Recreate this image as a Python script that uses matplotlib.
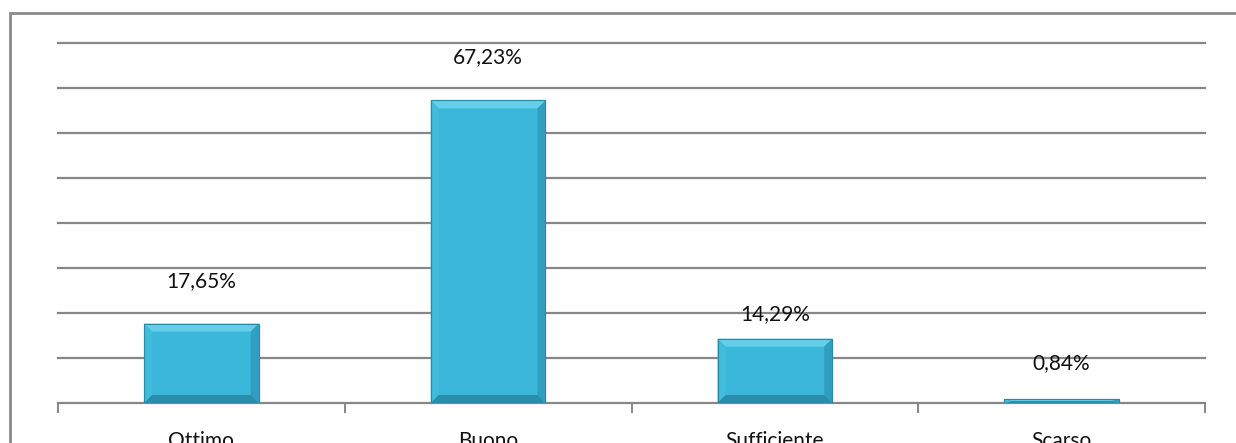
import matplotlib
matplotlib.use("Agg")
import matplotlib.pyplot as plt
from matplotlib.patches import Polygon, Rectangle

categories = ["Ottimo", "Buono", "Sufficiente", "Scarso"]
values = [17.65, 67.23, 14.29, 0.84]
labels = ["17,65%", "67,23%", "14,29%", "0,84%"]
# vertical offset (pixels) of each data label above its bar top
label_offsets_px = [42, 43, 25, 36]

plt.rcParams['font.family'] = ['Lato', 'DejaVu Sans']

W, H = 1236, 443
fig = plt.figure(figsize=(W / 100, H / 100), dpi=100)

# outer frame (extends beyond the image at right/bottom)
fig.patches.append(Rectangle((10 / W, -0.1), 1.2, (H - 13) / H + 0.1,
                             transform=fig.transFigure, fill=False,
                             edgecolor="#8a8a8a", linewidth=2))

ax = fig.add_axes([58 / W, (H - 403) / H, (1205 - 58) / W, 360 / H])
ax.set_xlim(-0.5, len(categories) - 0.5)
ax.set_ylim(0, 80)

for y in range(10, 81, 10):
    ax.axhline(y, color="#878787", linewidth=1.6, zorder=1, clip_on=False)

x = list(range(len(categories)))
bw = 0.4
bars = ax.bar(x, values, width=bw, color="#3ab7d9", edgecolor="#2a8aa6",
              linewidth=0.8, zorder=3)

# bevel effect
px_x = (len(categories)) / (1205 - 58)
px_y = 80 / 360
for b in bars:
    x0, y0 = b.get_x(), b.get_y()
    w, h = b.get_width(), b.get_height()
    x1, y1 = x0 + w, y0 + h
    bx = min(8 * px_x, w / 2)
    by = min(8 * px_y, h / 2)
    top = Polygon([(x0, y1), (x1, y1), (x1 - bx, y1 - by), (x0 + bx, y1 - by)],
                  closed=True, facecolor="#66cdea", edgecolor="none", zorder=4)
    left = Polygon([(x0, y0), (x0, y1), (x0 + bx, y1 - by), (x0 + bx, y0 + by)],
                   closed=True, facecolor="#42bcdd", edgecolor="none", zorder=4)
    right = Polygon([(x1, y0), (x1, y1), (x1 - bx, y1 - by), (x1 - bx, y0 + by)],
                    closed=True, facecolor="#309fbf", edgecolor="none", zorder=4)
    bottom = Polygon([(x0, y0), (x1, y0), (x1 - bx, y0 + by), (x0 + bx, y0 + by)],
                     closed=True, facecolor="#2a8daa", edgecolor="none", zorder=4)
    for p in (top, left, right, bottom):
        ax.add_patch(p)
    ax.add_patch(Rectangle((x0, y0), w, h, fill=False, edgecolor="#2a8aa6",
                           linewidth=0.8, zorder=5))

for xi, v, lab, off in zip(x, values, labels, label_offsets_px):
    ax.text(xi, v + off * px_y, lab, ha="center", va="center", fontsize=15,
            color="#111111", zorder=6)

for s in ("left", "right", "top"):
    ax.spines[s].set_visible(False)
ax.spines["bottom"].set_color("#878787")
ax.spines["bottom"].set_linewidth(1.6)
ax.spines["bottom"].set_zorder(2)

ax.set_yticks([])
ax.set_xticks([i - 0.5 for i in range(len(categories) + 1)])
ax.set_xticklabels([])
ax.set_xticks(x, minor=True)
ax.set_xticklabels(categories, minor=True, fontsize=15, color="#111111")
ax.tick_params(axis="x", which="major", length=7, width=1.4, color="#878787",
               direction="out")
ax.tick_params(axis="x", which="minor", length=0, pad=20)

fig.savefig("out.png", dpi=100)
